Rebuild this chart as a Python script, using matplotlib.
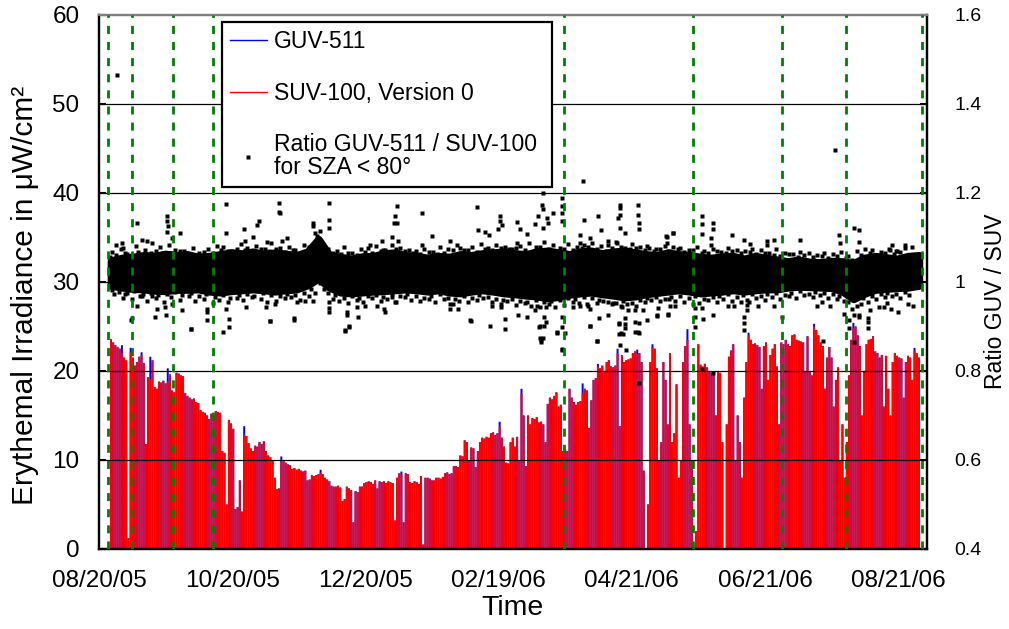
import numpy as np
import matplotlib.pyplot as plt
import matplotlib.dates as mdates
from matplotlib.lines import Line2D
from matplotlib.ticker import FuncFormatter

plt.rcParams['font.family'] = ['Liberation Sans', 'DejaVu Sans']

start = np.datetime64('2005-08-20')
first_day = 5  # first day with data, counted from start

# daily maximum of erythemal irradiance, SUV-100 (uW/cm2), one value per day
suv_peak = [
    23.6, 23.2, 22.9, 22.7, 22.5, 22.0, 21.5, 21.2, 1.2, 22.1,
    21.5, 20.6, 21.0, 21.6, 21.8, 20.9, 11.8, 19.3, 19.1, 21.2,
    18.2, 18.0, 18.8, 18.7, 18.9, 18.6, 18.8, 19.6, 17.8, 17.6,
    19.8, 19.7, 19.5, 19.4, 17.5, 17.2, 17.0, 16.8, 16.9, 16.5,
    16.4, 15.6, 15.4, 15.3, 15.0, 14.6, 15.2, 15.0, 15.5, 15.4,
    15.3, 11.0, 10.8, 5.0, 14.5, 14.1, 13.5, 4.5, 4.7, 7.7,
    4.2, 12.8, 12.7, 11.9, 11.3, 11.0, 11.6, 11.5, 12.0, 11.8,
    12.1, 11.0, 10.5, 10.3, 10.0, 8.0, 6.7, 6.8, 10.0, 9.9,
    9.7, 9.5, 9.4, 9.0, 9.1, 8.9, 9.0, 8.8, 8.7, 8.8,
    7.7, 7.8, 8.3, 8.2, 8.3, 8.4, 8.6, 8.4, 8.0, 7.8,
    7.6, 7.1, 7.0, 7.0, 7.1, 6.9, 5.4, 5.6, 7.0, 6.8,
    6.6, 3.0, 6.5, 6.4, 7.0, 7.0, 7.4, 7.5, 7.6, 7.5,
    7.3, 7.7, 6.8, 7.6, 7.5, 7.6, 7.4, 7.6, 7.5, 7.4,
    3.2, 8.0, 8.5, 8.4, 3.0, 8.5, 8.4, 7.5, 7.4, 7.6,
    7.5, 7.3, 8.2, 0.5, 8.0, 8.0, 7.9, 7.7, 7.7, 8.0,
    8.0, 7.9, 8.1, 8.5, 8.6, 8.4, 8.5, 9.3, 9.3, 9.2,
    10.5, 10.4, 12.2, 12.0, 10.0, 11.4, 11.3, 9.2, 11.0, 12.0,
    12.5, 12.4, 12.6, 12.5, 13.0, 13.1, 12.8, 13.0, 13.8, 12.5,
    11.5, 9.7, 9.6, 12.0, 12.5, 11.5, 12.6, 10.0, 17.5, 15.0,
    9.3, 15.0, 14.0, 14.7, 14.6, 14.8, 14.2, 14.3, 14.0, 12.0,
    16.3, 17.0, 16.8, 17.2, 17.6, 16.0, 16.2, 11.0, 11.2, 11.0,
    18.0, 17.0, 16.5, 16.2, 16.5, 16.6, 17.5, 18.0, 17.8, 13.6,
    16.7, 19.0, 19.2, 20.5, 20.3, 20.6, 20.0, 21.0, 21.2, 20.5,
    20.4, 20.6, 22.0, 13.8, 21.8, 21.0, 21.2, 21.3, 21.4, 22.0,
    22.2, 21.9, 22.0, 21.0, 8.8, 0.0, 5.0, 21.0, 22.7, 22.5,
    20.3, 10.0, 12.0, 21.0, 19.0, 14.0, 22.0, 12.0, 13.0, 18.5,
    8.0, 10.0, 21.0, 22.8, 23.5, 14.0, 10.0, 0.0, 2.0, 23.0,
    20.7, 20.5, 20.8, 20.4, 20.0, 19.8, 20.0, 15.0, 20.0, 19.8,
    12.0, 0.0, 14.0, 21.6, 22.3, 23.0, 10.0, 15.0, 12.0, 8.0,
    17.0, 21.0, 24.0, 23.5, 23.0, 23.1, 22.9, 22.7, 18.0, 22.8,
    23.2, 19.0, 21.8, 22.5, 23.0, 20.5, 14.0, 23.2, 23.0, 23.5,
    23.0, 22.8, 24.0, 24.1, 23.5, 23.4, 23.3, 23.2, 20.0, 23.9,
    20.0, 19.5, 25.0, 24.6, 24.0, 23.2, 22.8, 18.0, 21.5, 22.7,
    21.5, 16.0, 19.0, 20.4, 10.0, 14.0, 8.0, 12.0, 19.5, 23.5,
    24.8, 25.0, 24.0, 22.8, 15.0, 20.0, 23.0, 23.5, 23.6, 23.9,
    22.2, 22.0, 21.5, 21.8, 16.0, 21.7, 18.0, 15.0, 21.0, 22.0,
    21.7, 21.5, 21.4, 17.0, 21.0, 21.7, 21.5, 19.0, 22.3, 22.0, 21.5,
]

# days where the GUV-511 maximum is above the SUV-100 one
guv_tips = {10: 22.9, 14: 22.6, 19: 22.1, 23: 21.6, 31: 20.3, 66: 13.8,
            83: 10.4, 101: 8.9, 138: 8.7, 183: 14.3, 193: 18.0, 221: 18.6,
            228: 20.8, 237: 22.5, 246: 22.4, 253: 23.0, 269: 24.7, 297: 24.3,
            327: 25.3, 345: 25.4, 373: 22.6}

# bulk of the GUV/SUV ratio points, sampled every 5 days
band_day = list(range(5, 376, 5))
band_hi = [1.048, 1.054, 1.056, 1.060, 1.058, 1.063, 1.060, 1.062, 1.056, 1.058,
           1.062, 1.066, 1.064, 1.068, 1.062, 1.066, 1.063, 1.060, 1.068, 1.096,
           1.060, 1.056, 1.052, 1.057, 1.058, 1.064, 1.066, 1.060, 1.058, 1.054,
           1.058, 1.056, 1.062, 1.060, 1.064, 1.066, 1.068, 1.064, 1.062, 1.068,
           1.070, 1.066, 1.062, 1.068, 1.070, 1.064, 1.068, 1.070, 1.066, 1.062,
           1.060, 1.066, 1.062, 1.060, 1.056, 1.054, 1.057, 1.058, 1.052, 1.058,
           1.054, 1.050, 1.046, 1.050, 1.045, 1.044, 1.047, 1.046, 1.042, 1.054,
           1.058, 1.055, 1.052, 1.058, 1.060]
band_lo = [0.992, 0.988, 0.985, 0.984, 0.981, 0.980, 0.983, 0.983, 0.984, 0.979,
           0.977, 0.980, 0.982, 0.984, 0.982, 0.979, 0.982, 0.984, 0.993, 1.008,
           0.988, 0.977, 0.975, 0.977, 0.979, 0.980, 0.982, 0.984, 0.982, 0.979,
           0.982, 0.977, 0.975, 0.979, 0.982, 0.979, 0.975, 0.973, 0.970, 0.968,
           0.964, 0.967, 0.972, 0.975, 0.977, 0.973, 0.970, 0.966, 0.968, 0.973,
           0.976, 0.979, 0.982, 0.979, 0.975, 0.977, 0.979, 0.982, 0.979, 0.982,
           0.984, 0.984, 0.988, 0.990, 0.989, 0.988, 0.987, 0.979, 0.962, 0.974,
           0.983, 0.985, 0.987, 0.988, 0.992]

# points along the edges of the bulk
edge_hi_day = [5, 8, 12, 15, 18, 22, 26, 29, 33, 37,
               40, 44, 48, 52, 56, 59, 63, 67, 70, 74,
               78, 81, 85, 89, 92, 96, 100, 103, 107, 111,
               114, 118, 122, 125, 129, 133, 136, 140, 144, 147,
               151, 155, 158, 162, 166, 169, 173, 177, 180, 184,
               188, 191, 195, 199, 202, 206, 210, 213, 217, 221,
               224, 228, 232, 235, 239, 243, 246, 250, 254, 257,
               261, 265, 268, 272, 276, 279, 283, 287, 290, 294,
               298, 301, 305, 309, 312, 316, 320, 323, 327, 331,
               334, 338, 342, 345, 349, 353, 356, 360, 364, 367]
edge_hi_val = [1.056, 1.060, 1.064, 1.061, 1.067, 1.063, 1.069, 1.066, 1.064, 1.070,
               1.066, 1.061, 1.068, 1.065, 1.072, 1.069, 1.074, 1.071, 1.067, 1.073,
               1.070, 1.075, 1.068, 1.072, 1.066, 1.078, 1.104, 1.069, 1.064, 1.062,
               1.066, 1.061, 1.067, 1.064, 1.070, 1.068, 1.074, 1.070, 1.066, 1.063,
               1.068, 1.062, 1.066, 1.071, 1.065, 1.072, 1.068, 1.074, 1.071, 1.076,
               1.073, 1.077, 1.072, 1.070, 1.078, 1.074, 1.070, 1.075, 1.072, 1.076,
               1.079, 1.073, 1.070, 1.076, 1.078, 1.073, 1.077, 1.071, 1.069, 1.074,
               1.070, 1.073, 1.068, 1.071, 1.066, 1.064, 1.069, 1.066, 1.070, 1.064,
               1.067, 1.063, 1.066, 1.061, 1.059, 1.063, 1.057, 1.060, 1.056, 1.059,
               1.054, 1.058, 1.053, 1.050, 1.060, 1.064, 1.061, 1.066, 1.063, 1.068]
edge_lo_day = [6, 9, 13, 16, 20, 24, 27, 31, 35, 38,
               42, 46, 49, 53, 57, 60, 64, 68, 71, 75,
               79, 83, 86, 90, 94, 97, 101, 105, 108, 112,
               116, 119, 123, 127, 130, 134, 138, 141, 145, 149,
               152, 156, 160, 163, 167, 171, 174, 178, 182, 185,
               189, 193, 196, 200, 204, 207, 211, 215, 218, 222,
               226, 229, 233, 237, 240, 244, 248, 251, 255, 259,
               262, 266, 270, 273, 277, 281, 284, 288, 292, 295,
               299, 303, 306, 310, 314, 317, 321, 325, 328, 332,
               336, 339, 343, 347, 350, 354, 358, 361, 365, 369]
edge_lo_val = [0.982, 0.978, 0.975, 0.979, 0.972, 0.976, 0.970, 0.974, 0.977, 0.971,
               0.975, 0.968, 0.972, 0.966, 0.970, 0.965, 0.971, 0.974, 0.969, 0.975,
               0.971, 0.968, 0.973, 0.970, 0.976, 0.984, 0.998, 0.975, 0.970, 0.965,
               0.969, 0.964, 0.968, 0.971, 0.966, 0.972, 0.969, 0.973, 0.968, 0.964,
               0.969, 0.972, 0.965, 0.962, 0.968, 0.965, 0.970, 0.967, 0.962, 0.959,
               0.962, 0.958, 0.955, 0.959, 0.954, 0.957, 0.960, 0.964, 0.961, 0.966,
               0.963, 0.959, 0.956, 0.952, 0.957, 0.953, 0.959, 0.963, 0.966, 0.962,
               0.966, 0.969, 0.965, 0.968, 0.962, 0.966, 0.969, 0.972, 0.967, 0.970,
               0.973, 0.969, 0.972, 0.975, 0.971, 0.976, 0.979, 0.974, 0.977, 0.975,
               0.973, 0.968, 0.955, 0.945, 0.963, 0.968, 0.972, 0.975, 0.973, 0.977]

# points just above and below the bulk
fringe_hi_day = [6, 10, 13, 17, 21, 24, 28, 32, 35, 39,
                 43, 46, 50, 54, 57, 61, 65, 68, 72, 76,
                 79, 83, 87, 90, 94, 98, 101, 105, 109, 112,
                 116, 120, 123, 127, 131, 134, 138, 142, 145, 149,
                 153, 156, 160, 164, 167, 171, 175, 178, 182, 186,
                 189, 193, 197, 200, 204, 208, 211, 215, 219, 222,
                 226, 230, 233, 237, 241, 244, 248, 252, 255, 259,
                 263, 266, 270, 274, 277, 281, 285, 288, 292, 296,
                 299, 303, 307, 310, 314, 318, 321, 325, 329, 332,
                 336, 340, 343, 347, 351, 354, 358, 362, 365, 369]
fringe_hi_val = [1.068, 1.075, 1.062, 1.080, 1.071, 1.066, 1.078, 1.083, 1.072, 1.069,
                 1.077, 1.064, 1.074, 1.081, 1.079, 1.070, 1.086, 1.076, 1.081, 1.073,
                 1.088, 1.077, 1.079, 1.072, 1.084, 1.078, 1.115, 1.074, 1.069, 1.078,
                 1.066, 1.073, 1.076, 1.080, 1.071, 1.083, 1.077, 1.072, 1.070, 1.075,
                 1.068, 1.079, 1.074, 1.082, 1.071, 1.078, 1.085, 1.076, 1.083, 1.079,
                 1.074, 1.081, 1.087, 1.078, 1.090, 1.083, 1.077, 1.086, 1.079, 1.084,
                 1.088, 1.080, 1.082, 1.089, 1.077, 1.085, 1.079, 1.076, 1.073, 1.081,
                 1.078, 1.076, 1.072, 1.079, 1.070, 1.074, 1.068, 1.076, 1.072, 1.069,
                 1.075, 1.071, 1.066, 1.073, 1.065, 1.062, 1.068, 1.064, 1.061, 1.066,
                 1.063, 1.067, 1.058, 1.070, 1.074, 1.072, 1.068, 1.075, 1.070, 1.077]
fringe_lo_day = [7, 11, 15, 19, 22, 26, 30, 33, 37, 41,
                 44, 48, 52, 55, 59, 63, 66, 70, 74, 77,
                 81, 85, 88, 92, 96, 99, 103, 107, 110, 114,
                 118, 121, 125, 129, 132, 136, 140, 143, 147, 151,
                 154, 158, 162, 165, 169, 173, 176, 180, 184, 187,
                 191, 195, 198, 202, 206, 209, 213, 217, 220, 224,
                 228, 231, 235, 239, 242, 246, 250, 253, 257, 261,
                 264, 268, 272, 275, 279, 283, 286, 290, 294, 297,
                 301, 305, 308, 312, 316, 319, 323, 327, 330, 334,
                 338, 341, 345, 349, 352, 356, 360, 363, 367, 371]
fringe_lo_val = [0.972, 0.965, 0.961, 0.968, 0.958, 0.963, 0.955, 0.966, 0.960, 0.969,
                 0.957, 0.962, 0.953, 0.960, 0.956, 0.964, 0.959, 0.967, 0.961, 0.955,
                 0.958, 0.963, 0.966, 0.960, 0.968, 0.975, 0.985, 0.962, 0.957, 0.952,
                 0.959, 0.955, 0.963, 0.958, 0.961, 0.954, 0.966, 0.960, 0.957, 0.962,
                 0.956, 0.961, 0.951, 0.958, 0.955, 0.960, 0.963, 0.954, 0.950, 0.957,
                 0.949, 0.953, 0.946, 0.944, 0.950, 0.943, 0.948, 0.955, 0.952, 0.947,
                 0.953, 0.958, 0.950, 0.945, 0.951, 0.946, 0.955, 0.960, 0.957, 0.962,
                 0.958, 0.955, 0.951, 0.953, 0.959, 0.956, 0.962, 0.958, 0.955, 0.960,
                 0.963, 0.960, 0.966, 0.962, 0.968, 0.965, 0.970, 0.967, 0.971, 0.965,
                 0.962, 0.958, 0.940, 0.950, 0.956, 0.962, 0.966, 0.969, 0.965, 0.970]

# individual ratio points far from the bulk
ratio_day = [
    8.1, 31.3, 31.3, 31.5, 31.3, 33.3, 17.3, 37.1, 58.2, 58.2, 66.4, 70.4,
    72.2, 73.3, 82.6, 82.6, 82.8, 98.2, 98.2, 98.9, 105.5, 105.5, 105.5,
    8.0, 10.4, 11.1, 19.5, 21.8, 24.1, 66.9, 76.8, 83.7, 86.0, 124.1, 129.7,
    130.3, 136.7, 135.6, 134.9, 136.4, 147.8, 147.8, 173.0, 173.7, 176.8,
    178.8, 183.7, 183.7, 184.4, 182.9, 191.6, 192.8, 195.8, 191.3, 199.7,
    203.2, 202.7, 203.4, 201.2, 205.0, 205.8, 203.4, 207.8, 211.9, 211.9,
    211.9, 211.9, 221.7, 221.9, 228.7, 229.8, 220.4, 220.3, 224.9, 233.3,
    237.1, 238.6, 238.6, 238.6, 237.9, 238.6, 240.9, 246.9, 246.9, 247.3,
    247.3, 250.9, 260.0, 263.1, 259.7, 263.0, 260.0, 134.1, 137.1, 152.4,
    160.8, 165.4, 276.1, 276.1, 276.1, 281.4, 281.1, 280.2, 280.4, 289.8,
    295.6, 298.2, 306.1, 306.1, 309.2, 321.1, 338.7, 339.5, 337.2, 345.8,
    348.3, 348.0, 363.4, 365.4, 362.3, 369.0, 372.5,
    14.9, 25.7, 30.7, 26.4, 30.2, 37.9, 42.1, 49.6, 49.6, 49.6, 56.6, 59.5,
    59.5, 58.2, 67.2, 76.5, 80.6, 78.3, 89.3, 90.5, 94.4, 98.2, 105.5,
    105.5, 105.5, 112.7, 114.7, 113.5, 113.8, 118.8, 118.0, 121.8, 127.2,
    131.0, 17.3, 19.5, 11.9, 24.1, 33.3, 130.5, 135.6, 134.1, 160.8, 160.8,
    164.6, 169.9, 179.1, 186.0, 186.0, 179.9, 184.0, 192.1, 195.8, 201.7,
    202.5, 203.2, 204.0, 204.8, 199.7, 200.5, 209.6, 211.9, 211.9, 211.9,
    224.9, 228.3, 229.2, 232.9, 224.9, 217.3, 220.3, 223.4, 235.6, 238.3,
    238.3, 240.9, 240.9, 239.4, 242.5, 245.4, 246.9, 247.3, 245.4, 250.9,
    255.4, 260.8, 261.5, 263.8, 249.2, 255.5, 260.4, 256.2, 273.0, 273.0,
    273.0, 276.5, 281.4, 276.1, 295.3, 295.6, 295.6, 296.8, 296.8, 288.2,
    291.0, 297.6, 302.0, 309.2, 312.6, 328.8, 331.0, 334.9, 341.0, 343.3,
    343.7, 345.6, 347.9, 345.6, 348.3, 352.1, 352.2, 352.1, 352.9, 357.4,
    359.7, 360.8, 362.8, 366.0, 370.5, 373.0,
    202.2, 203.7, 204.5, 202.0, 202.4, 209.8, 213.2, 212.1, 225.1, 228.1,
    238.0, 239.0, 240.0, 241.0, 238.4, 241.4, 245.4, 247.2, 247.2,
    276.1, 281.4, 331.5, 14.8, 42.3, 78.5, 89.5, 112.8, 114.7, 170.3,
]
ratio_val = [
    1.464, 1.149, 1.136, 1.125, 1.113, 1.098, 1.132, 1.110, 1.176, 1.110,
    1.118, 1.102, 1.128, 1.136, 1.177, 1.158, 1.155, 1.133, 1.125, 1.110,
    1.177, 1.140, 1.122, 1.084, 1.087, 1.076, 1.095, 1.091, 1.087, 1.091,
    1.089, 1.091, 1.098, 1.084, 1.091, 1.072, 1.170, 1.148, 1.133, 1.133,
    1.156, 1.084, 1.168, 1.117, 1.112, 1.105, 1.148, 1.136, 1.129, 1.118,
    1.135, 1.118, 1.108, 1.088, 1.130, 1.201, 1.174, 1.163, 1.148, 1.144,
    1.133, 1.122, 1.156, 1.189, 1.170, 1.155, 1.136, 1.226, 1.140, 1.148,
    1.116, 1.106, 1.088, 1.099, 1.091, 1.087, 1.174, 1.166, 1.151, 1.144,
    1.122, 1.110, 1.174, 1.151, 1.133, 1.118, 1.080, 1.100, 1.110, 1.103,
    1.109, 1.088, 1.100, 1.091, 1.103, 1.091, 1.076, 1.148, 1.131, 1.108,
    1.133, 1.118, 1.098, 1.082, 1.105, 1.095, 1.086, 1.091, 1.084, 1.095,
    1.095, 1.106, 1.088, 1.297, 1.121, 1.116, 1.090, 1.084, 1.069, 1.072,
    1.083, 1.078,
    0.919, 0.922, 0.925, 0.940, 0.943, 0.937, 0.895, 0.914, 0.940, 0.933,
    0.888, 0.899, 0.916, 0.940, 0.943, 0.943, 0.950, 0.912, 0.919, 0.956,
    0.958, 0.958, 0.956, 0.941, 0.933, 0.890, 0.899, 0.925, 0.933, 0.922,
    0.943, 0.946, 0.946, 0.933, 0.946, 0.968, 0.972, 0.968, 0.950, 0.939,
    0.956, 0.967, 0.940, 0.951, 0.940, 0.915, 0.902, 0.895, 0.916, 0.946,
    0.944, 0.925, 0.921, 0.899, 0.869, 0.873, 0.921, 0.944, 0.937, 0.946,
    0.888, 0.847, 0.921, 0.899, 0.902, 0.868, 0.919, 0.925, 0.940, 0.944,
    0.946, 0.950, 0.952, 0.906, 0.884, 0.919, 0.906, 0.944, 0.937, 0.888,
    0.888, 0.908, 0.937, 0.915, 0.925, 0.925, 0.946, 0.946, 0.937, 0.924,
    0.927, 0.941, 0.941, 0.922, 0.899, 0.916, 0.925, 0.941, 0.922, 0.907,
    0.893, 0.937, 0.948, 0.945, 0.947, 0.955, 0.946, 0.946, 0.922, 0.946,
    0.956, 0.946, 0.929, 0.915, 0.896, 0.866, 0.922, 0.925, 0.925, 0.919,
    0.910, 0.896, 0.937, 0.944, 0.944, 0.952, 0.940, 0.933, 0.950, 0.945,
    0.900, 0.902, 0.911, 0.874, 0.866, 0.886, 0.885, 0.849, 0.901, 0.868,
    0.908, 0.886, 0.884, 0.896, 0.859, 0.847, 0.909, 0.886, 0.774,
    0.805, 0.795, 0.868, 0.915, 0.894, 0.913, 0.915, 0.891, 0.900, 0.913,
]

# instrument maintenance / calibration dates
event_dates = ['2005-08-24', '2005-09-04', '2005-09-23', '2005-10-11',
               '2006-03-21', '2006-05-19', '2006-06-29', '2006-07-28',
               '2006-09-01']
tick_dates = ['2005-08-20', '2005-10-20', '2005-12-20', '2006-02-19',
              '2006-04-21', '2006-06-21', '2006-08-21']

guv_peak = list(suv_peak)
for d, v in guv_tips.items():
    guv_peak[d - first_day] = v

t0 = mdates.date2num(start)
days = np.arange(first_day, first_day + len(suv_peak))

fig = plt.figure(figsize=(10.09, 6.29), dpi=100)
ax = fig.add_axes([0.0981, 0.1272, 0.8206, 0.849])
ax2 = ax.twinx()

ax.bar(t0 + days + 0.5, guv_peak, width=0.9, color='#0000FF', lw=0,
       snap=False, zorder=1)
ax.bar(t0 + days + 0.5, suv_peak, width=0.9, color='#FF0000', lw=0,
       snap=False, zorder=1.1)
for v in (10, 20, 30, 40, 50):
    ax.axhline(v, color='black', lw=0.9, zorder=2)

ax.set_xlim(t0, t0 + 379.2)
ax.set_ylim(0, 60)
ax.set_yticks(range(0, 61, 10))
ax.set_xticks(mdates.date2num(np.array(tick_dates, dtype='datetime64[D]')))
ax.xaxis.set_major_formatter(mdates.DateFormatter('%m/%d/%y'))
ax.tick_params(axis='y', direction='in', length=5, width=1.5, labelsize=17.5, pad=14)
ax.tick_params(axis='x', length=0, labelsize=17.5, pad=15)
ax.set_ylabel('Erythemal Irradiance in μW/cm²', fontsize=21.5)
ax.yaxis.set_label_coords(-0.073, 0.474)
ax.set_xlabel('Time', fontsize=20.5, labelpad=2)

# ratio on the right axis
ax2.fill_between(t0 + np.array(band_day) + 0.5, band_lo, band_hi,
                 facecolor='black', edgecolor='black', lw=5.5, zorder=3)
for xs, ys in ((edge_hi_day, edge_hi_val), (edge_lo_day, edge_lo_val),
               (fringe_hi_day, fringe_hi_val), (fringe_lo_day, fringe_lo_val),
               (ratio_day, ratio_val)):
    ax2.plot(t0 + np.array(xs), ys, 's', ms=2.3, color='black',
             mec='none', linestyle='none', zorder=3)
for d in event_dates:
    ax2.axvline(mdates.date2num(np.datetime64(d)), color='#008000', lw=2,
                linestyle=(0, (2.9, 2.9)), zorder=4)
ax2.set_ylim(0.4, 1.6)
ax2.set_yticks([0.4, 0.6, 0.8, 1.0, 1.2, 1.4, 1.6])
ax2.yaxis.set_major_formatter(FuncFormatter(lambda v, p: '%g' % round(v, 1)))
ax2.tick_params(axis='y', direction='in', length=5, width=1.5, labelsize=14, pad=20)
ax2.set_ylabel('Ratio GUV / SUV', fontsize=16.5)
ax2.yaxis.set_label_coords(1.069, 0.464)

for a in (ax, ax2):
    for side in ('left', 'right', 'bottom'):
        a.spines[side].set_color('black')
        a.spines[side].set_linewidth(1.6)
    a.spines['top'].set_color('#808080')
    a.spines['top'].set_linewidth(1.6)

handles = [Line2D([], [], color='#0000FF', lw=1),
           Line2D([], [], color='#FF0000', lw=1),
           Line2D([], [], marker='s', ms=3, color='black', mec='none', linestyle='none')]
labels = ['GUV-511', 'SUV-100, Version 0', 'Ratio GUV-511 / SUV-100\nfor SZA < 80°']
leg = ax2.legend(handles, labels, loc='upper left', mode='expand',
                 bbox_to_anchor=(0.1486, 0.6, 0.3986, 0.387),
                 borderaxespad=0, fontsize=16.5, labelspacing=1.25, handlelength=1.6,
                 handletextpad=0.3, borderpad=0.35, fancybox=False, framealpha=1,
                 edgecolor='black')
for t in leg.get_texts():
    t.set_linespacing(1.0)
leg.get_frame().set_linewidth(1.6)
leg.set_zorder(10)

fig.savefig('out.png', dpi=100)
